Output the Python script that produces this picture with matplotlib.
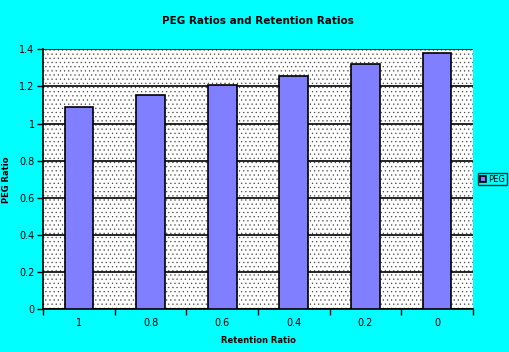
import matplotlib.pyplot as plt
from matplotlib.patches import Rectangle

retention = ["1", "0.8", "0.6", "0.4", "0.2", "0"]
peg = [1.088, 1.152, 1.208, 1.257, 1.320, 1.379]

plt.rcParams["hatch.linewidth"] = 0.4

fig = plt.figure(figsize=(5.1, 3.52), dpi=100, facecolor="#00ffff")
ax = fig.add_axes([43 / 510, 1 - 309.3 / 352, 430 / 510, 260 / 352])

# dotted plot background
ax.set_facecolor("white")
ax.add_patch(Rectangle((0, 0), 1, 1, transform=ax.transAxes, facecolor="white",
                       edgecolor="#444444", hatch="....", linewidth=0, zorder=0))

x = list(range(len(retention)))
ax.bar(x, peg, width=0.4, color="#7f7fff", edgecolor="black", linewidth=1.2,
       zorder=3, label="PEG")

ax.set_xlim(-0.5, len(retention) - 0.5)
ax.set_ylim(0, 1.4)
ax.set_yticks([0, 0.2, 0.4, 0.6, 0.8, 1.0, 1.2, 1.4])
ax.set_yticklabels(["0", "0.2", "0.4", "0.6", "0.8", "1", "1.2", "1.4"])
ax.yaxis.grid(True, color="black", linewidth=1.2, zorder=1)
ax.set_axisbelow(True)

ax.set_xticks([i - 0.5 for i in range(len(retention) + 1)])
ax.set_xticklabels([])
ax.set_xticks(x, minor=True)
ax.set_xticklabels(retention, minor=True)
ax.tick_params(axis="x", which="minor", length=0, pad=6, labelsize=7)
ax.tick_params(axis="x", which="major", length=4, width=1, direction="out")
ax.tick_params(axis="y", length=4, width=1, direction="out", labelsize=7, pad=2)

for s in ["top", "right"]:
    ax.spines[s].set_visible(False)
for s in ["left", "bottom"]:
    ax.spines[s].set_linewidth(1.2)

ax.set_title("PEG Ratios and Retention Ratios", fontsize=7.5, fontweight="bold",
             pad=18)
ax.set_xlabel("Retention Ratio", fontsize=6, fontweight="bold", labelpad=6)
ax.set_ylabel("PEG Ratio", fontsize=6, fontweight="bold", labelpad=6)

leg = ax.legend(loc="center left", bbox_to_anchor=(1.012, 0.5), fontsize=6,
                frameon=True, fancybox=False, edgecolor="black",
                handlelength=0.7, handleheight=0.7, handletextpad=0.3,
                borderpad=0.2, borderaxespad=0)
leg.get_frame().set_linewidth(1)
leg.get_frame().set_facecolor("#00ffff")

fig.savefig("out.png", dpi=100, facecolor=fig.get_facecolor())
